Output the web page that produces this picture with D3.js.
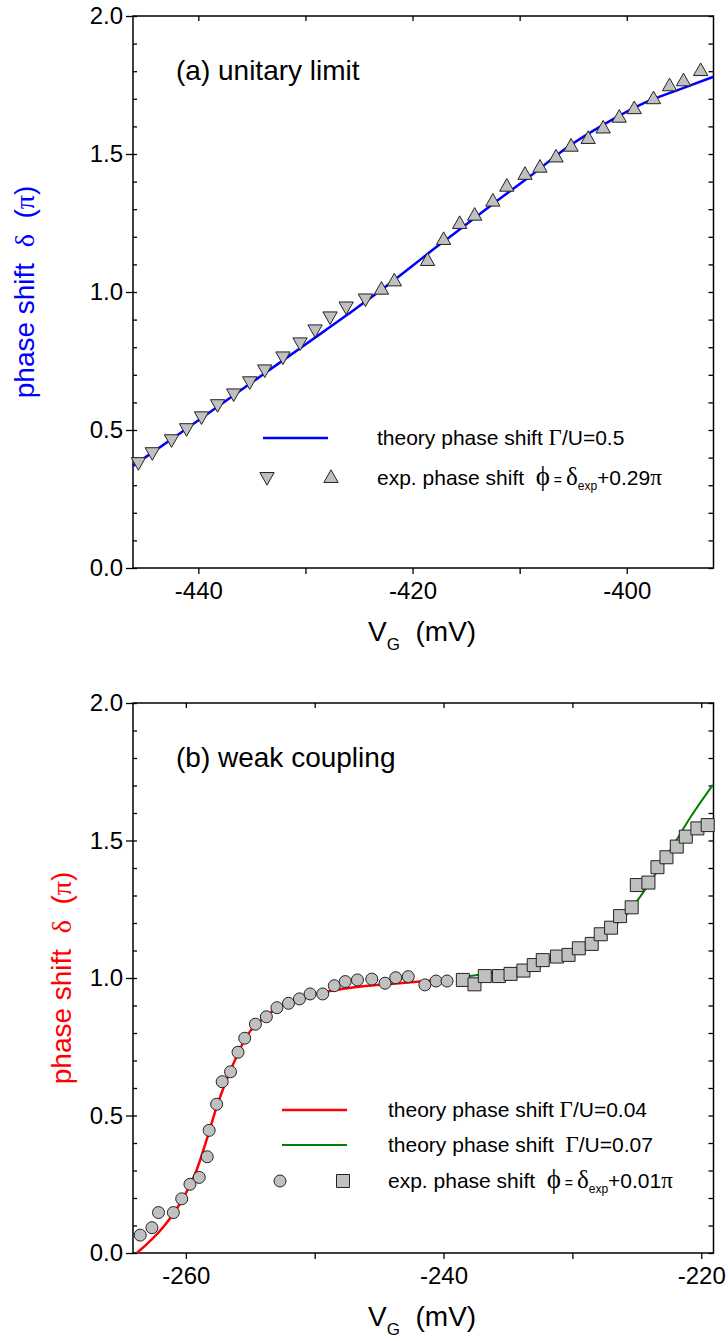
<!DOCTYPE html>
<html>
<head>
<meta charset="utf-8">
<script src="https://cdn.jsdelivr.net/npm/d3@7.9.0/dist/d3.min.js"></script>
<style>
  body { margin: 0; background: #fff; }
  svg { display: block; }
  text { font-family: 'Liberation Sans', Arial, sans-serif; fill: #000; }
  .sym { font-family: 'Liberation Serif', 'DejaVu Serif', serif; }
</style>
</head>
<body>
<svg id="chart" width="728" height="1341"></svg>
<script>
// ---- panel (a): unitary limit ----
const aTheoryV = [-446.1, -442, -438, -434, -430, -426, -423, -420, -418.6, -416, -412.5, -409, -405.7, -402, -398.3, -395, -391.9];
const aTheoryPhase = [0.37, 0.48, 0.59, 0.70, 0.81, 0.92, 1.005, 1.095, 1.138, 1.215, 1.319, 1.42, 1.52, 1.61, 1.686, 1.735, 1.78];
const aDownV = [-445.6, -444.3, -442.5, -441.1, -439.7, -438.2, -436.7, -435.2, -433.8, -432.1, -430.5, -429.1, -427.7, -426.2, -424.4];
const aDownPhase = [0.380, 0.416, 0.463, 0.503, 0.546, 0.590, 0.629, 0.673, 0.716, 0.763, 0.814, 0.861, 0.908, 0.944, 0.973];
const aUpV = [-422.9, -421.7, -418.6, -417.1, -415.6, -414.2, -412.5, -411.2, -409.5, -408.1, -406.6, -405.2, -403.6, -402.2, -400.7, -399.3, -397.5, -396.0, -394.7, -393.1];
const aUpPhase = [1.012, 1.042, 1.116, 1.192, 1.250, 1.280, 1.331, 1.385, 1.428, 1.454, 1.491, 1.530, 1.558, 1.596, 1.635, 1.666, 1.702, 1.749, 1.767, 1.804];
const aTicksX = [-440, -430, -420, -410, -400];
const aLabelsX = [-440, -420, -400];

// ---- panel (b): weak coupling ----
const bRedV = [-263.8, -261.7, -260.45, -259.16, -258.39, -257.6, -256.84, -256.07, -255.3, -254.0, -252.7, -250.2, -247.6, -243.7, -241.1, -239.3];
const bRedPhase = [0.0, 0.097, 0.18, 0.302, 0.411, 0.532, 0.629, 0.714, 0.787, 0.853, 0.896, 0.938, 0.962, 0.980, 0.99, 0.997];
const bGreenV = [-238.96, -235.7, -233.2, -230.1, -228.0, -225.95, -224.2, -222.4, -220.8, -219.1];
const bGreenPhase = [1.001, 1.023, 1.047, 1.102, 1.15, 1.223, 1.332, 1.465, 1.587, 1.702];
const bCircleV = [-263.54, -262.63, -262.12, -260.97, -260.32, -259.68, -258.96, -258.34, -258.19, -257.61, -257.18, -256.53, -255.95, -255.43, -254.6, -253.75, -252.93, -252.03, -251.18, -250.36, -249.38, -248.48, -247.63, -246.68, -245.57, -244.54, -243.71, -242.74, -241.45, -240.58, -239.73];
const bCirclePhase = [0.065, 0.092, 0.147, 0.147, 0.197, 0.25, 0.275, 0.35, 0.446, 0.541, 0.623, 0.659, 0.73, 0.781, 0.832, 0.859, 0.892, 0.908, 0.924, 0.942, 0.942, 0.972, 0.987, 0.993, 0.996, 0.981, 1.001, 1.005, 0.975, 0.989, 0.989];
const bSquareV = [-238.5, -237.6, -236.8, -235.7, -234.8, -233.8, -233.0, -232.3, -231.2, -230.3, -229.5, -228.5, -227.8, -227.0, -226.3, -225.4, -225.0, -224.1, -223.4, -222.7, -221.9, -221.2, -220.3, -219.5];
const bSquarePhase = [0.993, 0.977, 1.007, 1.007, 1.015, 1.027, 1.047, 1.065, 1.078, 1.084, 1.108, 1.124, 1.159, 1.183, 1.225, 1.257, 1.338, 1.347, 1.403, 1.439, 1.478, 1.514, 1.544, 1.556];
const bTicksX = [-260, -250, -240, -230, -220];
const bLabelsX = [-260, -240, -220];

const yLabels = [0, 0.5, 1.0, 1.5, 2.0];
const yMinor = d3.range(0, 21).map((i) => i / 10);

const svg = d3.select('#chart');
const fill = '#c0c0c0';

function zip(xs, ys) {
  return xs.map((x, i) => [x, ys[i]]);
}

function markerPath(kind, s) {
  if (kind === 'up') return `M0,${-s * 0.55}L${s * 0.55},${s * 0.42}L${-s * 0.55},${s * 0.42}Z`;
  if (kind === 'down') return `M0,${s * 0.55}L${s * 0.55},${-s * 0.42}L${-s * 0.55},${-s * 0.42}Z`;
  if (kind === 'square') return `M${-s / 2},${-s / 2}h${s}v${s}h${-s}Z`;
  return '';
}

function drawMarkers(g, pts, kind) {
  if (kind === 'circle') {
    g.selectAll(null).data(pts).join('circle')
      .attr('cx', (d) => d[0]).attr('cy', (d) => d[1]).attr('r', 6)
      .attr('fill', fill).attr('stroke', '#222').attr('stroke-width', 1);
  } else {
    g.selectAll(null).data(pts).join('path')
      .attr('transform', (d) => `translate(${d[0]},${d[1]})`)
      .attr('d', markerPath(kind, 13))
      .attr('fill', fill).attr('stroke', '#222').attr('stroke-width', 1);
  }
}

function drawPanel(cfg) {
  const x = d3.scaleLinear().domain(cfg.domainX).range([133, 713.5]);
  const y = d3.scaleLinear().domain([0, 2]).range([cfg.bottom, cfg.top]);
  const g = svg.append('g');

  // axes
  const styleAxis = (sel) => {
    sel.select('.domain').remove();
    sel.selectAll('line').attr('stroke', '#000').attr('stroke-width', 1.3);
    sel.selectAll('text').attr('font-size', 24).attr('font-family', "'Liberation Sans', Arial, sans-serif");
  };
  g.append('g').attr('transform', `translate(0,${cfg.bottom})`)
    .call(d3.axisBottom(x).tickValues(cfg.ticksX).tickSize(6).tickPadding(8)
      .tickFormat((d) => (cfg.labelsX.includes(d) ? d : '')))
    .call(styleAxis);
  g.append('g').attr('transform', `translate(0,${cfg.top})`)
    .call(d3.axisTop(x).tickValues(cfg.ticksX).tickSize(-5).tickFormat(''))
    .call(styleAxis);
  g.append('g').attr('transform', 'translate(133,0)')
    .call(d3.axisLeft(y).tickValues(yLabels).tickSize(7).tickPadding(3).tickFormat(d3.format('.1f')))
    .call(styleAxis);
  g.append('g').attr('transform', 'translate(133,0)')
    .call(d3.axisLeft(y).tickValues(yMinor).tickSize(-4).tickFormat(''))
    .call(styleAxis);
  g.append('g').attr('transform', 'translate(713.5,0)')
    .call(d3.axisRight(y).tickValues(yMinor).tickSize(-5).tickFormat(''))
    .call(styleAxis);

  g.append('rect')
    .attr('x', 133).attr('y', cfg.top).attr('width', 713.5 - 133).attr('height', cfg.bottom - cfg.top)
    .attr('fill', 'none').attr('stroke', '#000').attr('stroke-width', 1.5);

  // curves
  const line = d3.line().x((d) => x(d[0])).y((d) => y(d[1])).curve(d3.curveMonotoneX);
  cfg.curves.forEach((c) => {
    g.append('path').attr('d', line(zip(c.xs, c.ys)))
      .attr('fill', 'none').attr('stroke', c.color).attr('stroke-width', c.width);
  });

  // markers
  cfg.markers.forEach((m) => {
    drawMarkers(g, zip(m.xs, m.ys).map((d) => [x(d[0]), y(d[1])]), m.kind);
  });

  // panel title
  g.append('text').attr('x', 176).attr('y', cfg.top + 64).attr('font-size', 28).text(cfg.title);

  // y axis title
  const yt = g.append('text')
    .attr('transform', `translate(${cfg.yTitleX},${(cfg.top + cfg.bottom) / 2}) rotate(-90)`)
    .attr('text-anchor', 'middle').attr('font-size', 28);
  yt.append('tspan').attr('fill', cfg.yColor).text('phase shift\u00a0\u00a0');
  yt.append('tspan').attr('class', 'sym').attr('fill', cfg.yColor).text('δ');
  yt.append('tspan').attr('fill', cfg.yColor).text('\u00a0\u00a0(');
  yt.append('tspan').attr('class', 'sym').attr('fill', cfg.yColor).text('π');
  yt.append('tspan').attr('fill', cfg.yColor).text(')');

  // x axis title
  const xt = g.append('text').attr('x', 368).attr('y', cfg.bottom + 73).attr('font-size', 28);
  xt.append('tspan').text('V');
  xt.append('tspan').attr('font-size', 17).attr('dy', 9).text('G');
  xt.append('tspan').attr('dy', -9).text('\u00a0\u00a0(mV)');

  return { g, x, y };
}

function legendText(g, xPos, yPos, parts) {
  const t = g.append('text').attr('x', xPos).attr('y', yPos + 7).attr('font-size', 21);
  parts.forEach((p) => {
    const s = t.append('tspan').text(p.t);
    if (p.sym) s.attr('class', 'sym').attr('font-size', p.size || 23);
    if (p.size && !p.sym) s.attr('font-size', p.size);
    if (p.dy) s.attr('dy', p.dy);
  });
}

// panel (a)
const pa = drawPanel({
  domainX: [-446.1, -391.9], top: 16, bottom: 568,
  ticksX: aTicksX, labelsX: aLabelsX,
  title: '(a) unitary limit', yColor: '#0000ff', yTitleX: 34,
  curves: [{ xs: aTheoryV, ys: aTheoryPhase, color: '#0000ff', width: 2.5 }],
  markers: [
    { xs: aDownV, ys: aDownPhase, kind: 'down' },
    { xs: aUpV, ys: aUpPhase, kind: 'up' },
  ],
});

pa.g.append('line').attr('x1', 263).attr('x2', 328).attr('y1', 438).attr('y2', 438)
  .attr('stroke', '#0000ff').attr('stroke-width', 2.5);
legendText(pa.g, 377, 438, [{ t: 'theory phase shift ' }, { t: 'Γ', sym: true }, { t: '/U=0.5' }]);
drawMarkers(pa.g, [[267, 478]], 'down');
drawMarkers(pa.g, [[331, 477]], 'up');
legendText(pa.g, 377, 478, [
  { t: 'exp. phase shift\u00a0\u00a0' }, { t: 'ϕ', sym: true, size: 27 }, { t: ' = ', size: 14 },
  { t: 'δ', sym: true, size: 25 }, { t: 'exp', size: 12, dy: 5 }, { t: '+0.29', dy: -5 }, { t: 'π', sym: true },
]);

// panel (b)
const pb = drawPanel({
  domainX: [-264.1, -219.05], top: 703, bottom: 1253,
  ticksX: bTicksX, labelsX: bLabelsX,
  title: '(b) weak coupling', yColor: '#ff0000', yTitleX: 71,
  curves: [
    { xs: bRedV, ys: bRedPhase, color: '#ff0000', width: 2.5 },
    { xs: bGreenV, ys: bGreenPhase, color: '#008000', width: 2 },
  ],
  markers: [
    { xs: bCircleV, ys: bCirclePhase, kind: 'circle' },
    { xs: bSquareV, ys: bSquarePhase, kind: 'square' },
  ],
});

pb.g.append('line').attr('x1', 282).attr('x2', 347).attr('y1', 1110).attr('y2', 1110)
  .attr('stroke', '#ff0000').attr('stroke-width', 2.5);
legendText(pb.g, 388, 1110, [{ t: 'theory phase shift ' }, { t: 'Γ', sym: true }, { t: '/U=0.04' }]);
pb.g.append('line').attr('x1', 282).attr('x2', 347).attr('y1', 1145).attr('y2', 1145)
  .attr('stroke', '#008000').attr('stroke-width', 2);
legendText(pb.g, 388, 1145, [{ t: 'theory phase shift\u00a0\u00a0' }, { t: 'Γ', sym: true }, { t: '/U=0.07' }]);
drawMarkers(pb.g, [[280, 1181]], 'circle');
drawMarkers(pb.g, [[343, 1181]], 'square');
legendText(pb.g, 388, 1181, [
  { t: 'exp. phase shift\u00a0\u00a0' }, { t: 'ϕ', sym: true, size: 27 }, { t: ' = ', size: 14 },
  { t: 'δ', sym: true, size: 25 }, { t: 'exp', size: 12, dy: 5 }, { t: '+0.01', dy: -5 }, { t: 'π', sym: true },
]);
</script>
</body>
</html>
